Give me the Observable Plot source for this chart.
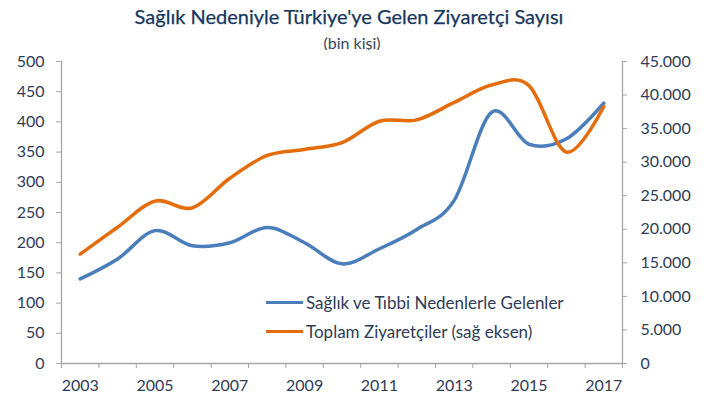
<!DOCTYPE html>
<html>
<head>
<meta charset="utf-8">
<script src="https://cdn.jsdelivr.net/npm/d3@7"></script>
<script src="https://cdn.jsdelivr.net/npm/@observablehq/plot@0.6"></script>
<style>
  body { margin: 0; background: #fff; }
  #wrap { position: relative; width: 712px; height: 403px; font-family: Lato, "Open Sans", sans-serif; color: #2f3c56; overflow: hidden; }
  #title { position: absolute; left: 0; top: 4px; width: 698px; text-align: center; font-size: 20px; color: #17365d; white-space: nowrap; -webkit-text-stroke: 0.25px #17365d; }
  #subtitle { position: absolute; left: 0; top: 33px; width: 704px; text-align: center; font-size: 16px; color: #3a4660; }
  #chart { position: absolute; left: 0; top: 50px; }
  .leg { position: absolute; left: 266px; font-size: 17px; color: #2f3c56; white-space: nowrap; display: flex; align-items: center; }
  .leg span.sw { display: inline-block; width: 37px; height: 3.5px; margin-right: 3px; }
</style>
</head>
<body>
<div id="wrap">
  <div id="title">Sağlık Nedeniyle Türkiye'ye Gelen Ziyaretçi Sayısı</div>
  <div id="subtitle">(bin kişi)</div>
  <div id="chart"></div>
  <div id="legend"></div>
</div>
<script>
// ---- data ----
const years = [2003, 2004, 2005, 2006, 2007, 2008, 2009, 2010, 2011, 2012, 2013, 2014, 2015, 2016, 2017];
const saglikTibbi = [140, 173, 220, 195, 200, 225, 200, 165, 190, 222, 270, 416, 363, 372, 431];
const toplamZiyaretci = [16300, 20300, 24200, 23200, 27600, 31000, 31900, 32900, 36100, 36300, 38900, 41500, 41400, 31500, 38300];
const seriesNames = ["Sağlık ve Tıbbi Nedenlerle Gelenler", "Toplam Ziyaretçiler (sağ eksen)"];
const seriesColors = ["#4a7ebb", "#e46c0a"];
const leftTicks = [0, 50, 100, 150, 200, 250, 300, 350, 400, 450, 500];
const rightTicks = [0, 5000, 10000, 15000, 20000, 25000, 30000, 35000, 40000, 45000];
const xLabelYears = [2003, 2005, 2007, 2009, 2011, 2013, 2015, 2017];

const RATIO = rightTicks[rightTicks.length - 1] / leftTicks[leftTicks.length - 1]; // 90
const trFormat = d3.formatLocale({decimal: ",", thousands: ".", grouping: [3], currency: ["", ""]}).format(",");

const data = years.map((year, i) => ({year, saglik: saglikTibbi[i], toplam: toplamZiyaretci[i]}));
const boundaries = years.map(y => y - 0.5).concat([years[years.length - 1] + 0.5]);

const axisGray = "#a6a6a6";
const textCol = "#2f3c56";

const chart = Plot.plot({
  width: 712,
  height: 353,
  marginTop: 11,
  marginBottom: 40,
  marginLeft: 61,
  marginRight: 90,
  x: {domain: [years[0] - 0.5, years[years.length - 1] + 0.5]},
  y: {domain: [0, leftTicks[leftTicks.length - 1]]},
  style: {fontFamily: "Lato, 'Open Sans', sans-serif", fontSize: "16px", color: textCol, background: "white"},
  marks: [
    Plot.axisY({ticks: leftTicks, tickSize: 5, tickPadding: 12, stroke: axisGray, fill: textCol, label: null, fontSize: 16}),
    Plot.axisY({anchor: "right", ticks: rightTicks.map(v => v / RATIO), tickFormat: v => trFormat(Math.round(v * RATIO)),
                tickSize: 4, tickPadding: 14, stroke: axisGray, fill: textCol, label: null, fontSize: 16}),
    Plot.axisX({ticks: xLabelYears, tickSize: 0, tickPadding: 16, tickFormat: d => String(d), fill: textCol, label: null, fontSize: 16}),
    Plot.axisX({ticks: boundaries, tickSize: 5, tickFormat: () => "", stroke: axisGray, label: null}),
    Plot.frame({anchor: "left", stroke: axisGray, strokeWidth: 1.3}),
    Plot.frame({anchor: "right", stroke: axisGray, strokeWidth: 1.3}),
    Plot.frame({anchor: "bottom", stroke: axisGray, strokeWidth: 1.3}),
    Plot.lineY(data, {x: "year", y: "saglik", stroke: seriesColors[0], strokeWidth: 3.5, curve: "cardinal", tension: 0}),
    Plot.lineY(data, {x: "year", y: d => d.toplam / RATIO, stroke: seriesColors[1], strokeWidth: 3.5, curve: "cardinal", tension: 0})
  ]
});
document.getElementById("chart").appendChild(chart);

// legend (inside the plot area, as in the original)
const legend = document.getElementById("legend");
seriesNames.forEach((name, i) => {
  const row = document.createElement("div");
  row.className = "leg";
  row.style.top = (292 + i * 29) + "px";
  row.innerHTML = `<span class="sw" style="background:${seriesColors[i]}"></span><span>${name}</span>`;
  legend.appendChild(row);
});
</script>
</body>
</html>
